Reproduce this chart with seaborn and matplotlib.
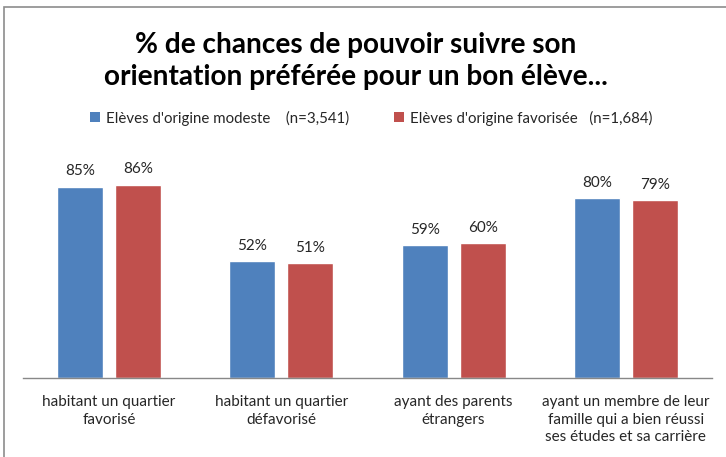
import matplotlib
matplotlib.use("Agg")
import matplotlib.pyplot as plt
import seaborn as sns
import pandas as pd
from matplotlib.patches import Patch, Rectangle

categories = [
    "habitant un quartier\nfavorisé",
    "habitant un quartier\ndéfavorisé",
    "ayant des parents\nétrangers",
    "ayant un membre de leur\nfamille qui a bien réussi\nses études et sa carrière",
]
series_names = [
    "Elèves d'origine modeste    (n=3,541)",
    "Elèves d'origine favorisée   (n=1,684)",
]
modeste = [85, 52, 59, 80]
favorisee = [86, 51, 60, 79]
colors = ["#4F81BD", "#C0504D"]
title = "% de chances de pouvoir suivre son\norientation préférée pour un bon élève..."

df = pd.DataFrame({
    "cat": categories * 2,
    "serie": [series_names[0]] * 4 + [series_names[1]] * 4,
    "val": modeste + favorisee,
})

sns.set_theme(style="white")
plt.rcParams["font.family"] = ["Lato", "DejaVu Sans"]

fig = plt.figure(figsize=(7.26, 4.57), dpi=100)
ax = fig.add_axes([23 / 726, 79 / 457, 689 / 726, 225 / 457])

sns.barplot(data=df, x="cat", y="val", hue="serie", palette=colors,
            width=0.674, gap=0.21, ax=ax, legend=False, saturation=1)

for cont in ax.containers:
    ax.bar_label(cont, fmt="{:.0f}%", padding=6, fontsize=11, color="#262626")

ax.set_xlim(-0.5, 3.5)
ax.set_ylim(0, 100)
ax.set_xlabel("")
ax.set_ylabel("")
ax.set_yticks([])
ax.tick_params(axis="x", length=0, pad=12, labelsize=11, colors="#262626")
for s in ["top", "right", "left"]:
    ax.spines[s].set_visible(False)
ax.spines["bottom"].set_color("#888888")
ax.spines["bottom"].set_linewidth(1)
for lbl in ax.get_xticklabels():
    lbl.set_linespacing(1.35)

fig.text(356 / 726, 1 - 61 / 457, title, ha="center", va="center",
         fontsize=20.2, fontweight="bold", linespacing=1.32, color="black")

handles = [Patch(facecolor=c, edgecolor="none") for c in colors]
fig.legend(handles, series_names, loc="center", bbox_to_anchor=(371 / 726, 1 - 118 / 457),
           ncol=2, frameon=False, fontsize=10.8, handlelength=0.65, handleheight=0.65,
           handletextpad=0.4, columnspacing=3.0, labelcolor="#262626")

fig.patches.append(Rectangle((4 / 726, -0.1), 1.2, (1 - 7 / 457) + 0.1,
                             transform=fig.transFigure, fill=False,
                             edgecolor="#8c8c8c", linewidth=1.2))

fig.savefig("out.png", dpi=100)
